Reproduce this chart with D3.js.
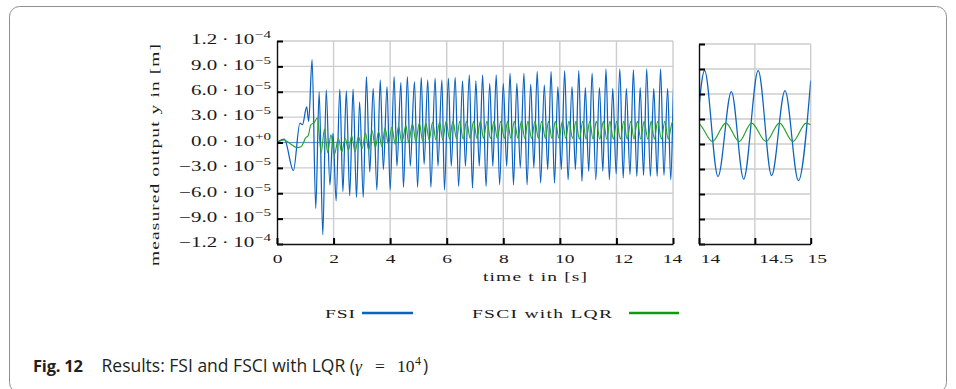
<!DOCTYPE html>
<html>
<head>
<meta charset="utf-8">
<script src="https://cdn.jsdelivr.net/npm/d3@7"></script>
<style>
  body { margin: 0; background: #fff; }
  svg text { font-family: "Liberation Serif", "DejaVu Serif", serif; fill: #1a1a1a; }
  svg text.caption { font-family: "Open Sans", "Noto Sans", sans-serif; fill: #231f20; }
</style>
</head>
<body>
<svg id="chart" width="956" height="389"></svg>
<script>
// values in units of 1e-5 m, time in s (turning points)
const fsiTime = [0.00, 0.26, 0.58, 0.81, 0.90, 1.05, 1.12, 1.24, 1.37, 1.49, 1.62, 1.74, 1.87, 1.98, 2.09, 2.22, 2.33, 2.45, 2.57, 2.69,
  2.81, 2.92, 3.05, 3.16, 3.28, 3.40, 3.53, 3.65, 3.76, 3.89, 4.00, 4.14, 4.24, 4.38, 4.47, 4.61, 4.71, 4.86, 4.97, 5.10,
  5.20, 5.33, 5.44, 5.59, 5.69, 5.83, 5.92, 6.06, 6.16, 6.30, 6.42, 6.56, 6.66, 6.80, 6.91, 7.03, 7.15, 7.27, 7.39, 7.52,
  7.63, 7.75, 7.87, 8.00, 8.12, 8.24, 8.36, 8.48, 8.60, 8.73, 8.84, 8.97, 9.08, 9.20, 9.32, 9.45, 9.57, 9.69, 9.81, 9.93,
  10.05, 10.17, 10.29, 10.43, 10.55, 10.67, 10.78, 10.90, 11.02, 11.14, 11.27, 11.40, 11.52, 11.63, 11.75, 11.87, 11.99, 12.12, 12.24, 12.35,
  12.48, 12.60, 12.72, 12.84, 12.96, 13.07, 13.20, 13.32, 13.44, 13.56, 13.68, 13.81, 13.92, 14.05, 14.17, 14.29, 14.40, 14.53, 14.65, 14.77,
  14.89, 15.00];
const fsiValue = [0.0, 0.4, -3.3, 2.3, 2.1, 4.2, 2.5, 9.8, -7.8, 6.0, -10.9, 6.2, -5.0, 1.1, -6.9, 6.3, -5.8, 6.1, -6.3, 6.3,
  -6.5, 4.8, -6.5, 7.8, -3.5, 6.4, -5.6, 7.4, -3.2, 6.6, -5.6, 7.8, -2.8, 7.1, -5.3, 7.8, -2.8, 7.2, -5.3, 7.7,
  -2.6, 7.4, -5.3, 7.6, -2.8, 7.4, -5.6, 7.6, -2.8, 7.7, -5.2, 7.3, -2.8, 8.0, -5.4, 7.3, -2.8, 8.0, -5.2, 7.0,
  -2.8, 8.0, -5.0, 7.0, -2.8, 8.2, -5.0, 7.0, -3.0, 8.2, -5.0, 6.9, -3.0, 8.4, -4.8, 6.8, -3.2, 8.4, -4.8, 6.6,
  -3.2, 8.5, -4.4, 6.6, -3.2, 8.5, -4.6, 6.5, -3.4, 8.2, -4.4, 6.5, -3.4, 8.7, -4.4, 6.4, -3.7, 8.7, -4.2, 6.4,
  -3.8, 8.6, -4.0, 6.5, -3.9, 8.7, -4.0, 6.4, -4.0, 8.7, -3.9, 6.4, -4.4, 8.8, -3.9, 6.3, -4.2, 8.8, -3.8, 6.4,
  -4.4, 7.6];

const fsciTime = [0.00, 0.25, 0.45, 0.70, 0.85, 0.95, 1.00, 1.10, 1.20, 1.30, 1.43, 1.56, 1.68, 1.79, 1.91, 2.03, 2.17, 2.29, 2.41, 2.53,
  2.64, 2.76, 2.88, 3.01, 3.13, 3.24, 3.36, 3.48, 3.59, 3.71, 3.82, 3.94, 4.06, 4.18, 4.30, 4.41, 4.56, 4.65, 4.79, 4.91,
  5.03, 5.15, 5.26, 5.38, 5.50, 5.62, 5.75, 5.86, 5.98, 6.10, 6.22, 6.35, 6.46, 6.58, 6.70, 6.83, 6.95, 7.07, 7.19, 7.30,
  7.42, 7.55, 7.67, 7.79, 7.91, 8.04, 8.15, 8.27, 8.39, 8.52, 8.64, 8.76, 8.87, 9.00, 9.12, 9.24, 9.36, 9.49, 9.60, 9.72,
  9.84, 9.97, 10.09, 10.21, 10.32, 10.45, 10.57, 10.69, 10.81, 10.93, 11.06, 11.17, 11.29, 11.41, 11.54, 11.66, 11.77, 11.89, 12.01, 12.14,
  12.26, 12.38, 12.51, 12.62, 12.74, 12.86, 12.98, 13.11, 13.23, 13.34, 13.46, 13.59, 13.71, 13.83, 13.99, 14.12, 14.24, 14.36, 14.47, 14.60,
  14.72, 14.84, 14.96, 15.00];
const fsciValue = [0.0, 0.3, -0.1, -0.6, -0.5, 0.1, 0.5, 0.8, 2.1, 2.3, 2.9, -1.2, 1.6, -1.2, 0.9, -1.4, 0.5, -1.1, 0.5, -0.9,
  0.8, -1.1, 0.7, -0.7, 1.1, -0.9, 1.4, -0.6, 1.3, -0.5, 1.7, -0.2, 1.8, -0.2, 1.9, 0.0, 2.0, 0.0, 2.2, 0.1,
  2.3, 0.2, 2.3, 0.3, 2.4, 0.3, 2.4, 0.3, 2.5, 0.4, 2.5, 0.4, 2.5, 0.4, 2.5, 0.5, 2.5, 0.5, 2.5, 0.5,
  2.5, 0.5, 2.5, 0.5, 2.5, 0.5, 2.5, 0.5, 2.5, 0.5, 2.5, 0.5, 2.5, 0.5, 2.5, 0.5, 2.5, 0.5, 2.5, 0.5,
  2.5, 0.5, 2.5, 0.5, 2.5, 0.5, 2.5, 0.4, 2.5, 0.4, 2.5, 0.4, 2.5, 0.4, 2.5, 0.4, 2.5, 0.4, 2.5, 0.4,
  2.5, 0.4, 2.5, 0.4, 2.5, 0.4, 2.5, 0.4, 2.5, 0.4, 2.5, 0.4, 2.5, 0.4, 2.5, 0.3, 2.5, 0.3, 2.5, 0.3,
  2.5, 0.3, 2.5, 2.3];

const xTicksMain = [0, 2, 4, 6, 8, 10, 12, 14];
const xTicksZoom = [14, 14.5, 15];
const xLabelsZoom = ["14", "14.5", "15"];
const yTicks = [-12, -9, -6, -3, 0, 3, 6, 9, 12];
const yMant = ["\u22121.2", "\u22129.0", "\u22126.0", "\u22123.0", "0.0", "3.0", "6.0", "9.0", "1.2"];
const yExp = ["\u22124", "\u22125", "\u22125", "\u22125", "+0", "\u22125", "\u22125", "\u22125", "\u22124"];
const seriesNames = ["FSI", "FSCI with LQR"];
const seriesColors = ["#0b62c0", "#0e9a12"];

const svg = d3.select('#chart');
const stretch = 1.5;   // text in the figure is wide along its reading direction

svg.append('rect')
  .attr('x', 9.5).attr('y', 6.5).attr('width', 937).attr('height', 386).attr('rx', 10)
  .attr('fill', 'none').attr('stroke', '#8f8f8f').attr('stroke-width', 1);

const xMain = d3.scaleLinear().domain([0, 14]).range([277, 673]);
const yMain = d3.scaleLinear().domain([-12, 12]).range([244, 41]);
const xZoom = d3.scaleLinear().domain([14, 15]).range([699, 810.7]);
const yZoom = d3.scaleLinear().domain([-12, 12]).range([244, 44]);

const fsi = fsiTime.map((t, i) => ({ t: t, v: fsiValue[i] }));
const fsci = fsciTime.map((t, i) => ({ t: t, v: fsciValue[i] }));

function drawPanel(x, y, xTicks, clipId, zeroLine) {
  const g = svg.append('g');
  const [xa, xb] = x.range();
  const [ya, yb] = y.range();

  g.append('g').selectAll('line')
    .data(yTicks.filter(d => d > -12))
    .join('line')
    .attr('x1', xa).attr('x2', xb)
    .attr('y1', d => y(d)).attr('y2', d => y(d))
    .attr('stroke', '#cdcdcd').attr('stroke-width', 1.4);

  g.append('g').selectAll('line')
    .data(xTicks.slice(1))
    .join('line')
    .attr('x1', d => x(d)).attr('x2', d => x(d))
    .attr('y1', yb).attr('y2', ya)
    .attr('stroke', '#cdcdcd').attr('stroke-width', 1.4);

  if (zeroLine) {
    g.append('line')
      .attr('x1', xa).attr('x2', xb).attr('y1', y(0)).attr('y2', y(0))
      .attr('stroke', '#4f87c6').attr('stroke-width', 0.8);
  }

  svg.append('clipPath').attr('id', clipId)
    .append('rect').attr('x', xa).attr('y', 0).attr('width', xb - xa).attr('height', 389);

  const line = d3.line()
    .x(d => x(d.t))
    .y(d => y(d.v))
    .curve(d3.curveMonotoneX);

  g.append('path').datum(fsi)
    .attr('clip-path', `url(#${clipId})`)
    .attr('d', line)
    .attr('fill', 'none').attr('stroke', seriesColors[0]).attr('stroke-width', 1.25);

  g.append('path').datum(fsci)
    .attr('clip-path', `url(#${clipId})`)
    .attr('d', line)
    .attr('fill', 'none').attr('stroke', '#26a32a').attr('stroke-width', 1.15);

  const yAxis = g.append('g')
    .attr('transform', `translate(${xa},0)`)
    .call(d3.axisLeft(y).tickValues(yTicks).tickSize(-6).tickSizeOuter(0).tickPadding(6).tickFormat(''));
  const xAxis = g.append('g')
    .attr('transform', `translate(0,${ya})`)
    .call(d3.axisBottom(x).tickValues(xTicks).tickSize(-6).tickSizeOuter(0).tickPadding(10));

  [yAxis, xAxis].forEach(ax => {
    ax.select('.domain').attr('stroke', '#111').attr('stroke-width', 1.4);
    ax.selectAll('.tick line').attr('stroke', '#000').attr('stroke-width', 2);
  });
  xAxis.selectAll('.tick text')
    .attr('font-size', 13)
    .attr('fill', '#1a1a1a')
    .attr('transform', `scale(${stretch},1)`);
  return { yAxis, xAxis };
}

const mainAx = drawPanel(xMain, yMain, xTicksMain, 'clip-main', true);
const zoomAx = drawPanel(xZoom, yZoom, xTicksZoom, 'clip-zoom', false);

// y tick labels of the main panel: mantissa · 10^exp
mainAx.yAxis.selectAll('.tick text').remove();
mainAx.yAxis.selectAll('.tick').each(function (d, i) {
  const t = d3.select(this).append('text')
    .attr('x', -6 / stretch)
    .attr('dy', '0.2em')
    .attr('text-anchor', 'end')
    .attr('font-size', 14)
    .attr('transform', `scale(${stretch},1)`);
  t.append('tspan').text(yMant[i]);
  t.append('tspan').attr('dx', 3).text('\u00b7');
  t.append('tspan').attr('dx', 3).text('10');
  t.append('tspan').attr('font-size', 10).attr('dy', -6).attr('dx', 0.5).text(yExp[i]);
});

// tick labels that sit a little off their ticks in the original
const mainShift = [0, 0, 0, 0, 0, 4.5, 6.5, -1];
mainAx.xAxis.selectAll('.tick text').attr('dx', (d, i) => mainShift[i] / stretch);
const zoomShift = [11, 21, 6];
zoomAx.xAxis.selectAll('.tick text')
  .text((d, i) => xLabelsZoom[i])
  .attr('dx', (d, i) => zoomShift[i] / stretch);

// axis titles
svg.append('text')
  .attr('transform', `translate(535,281) scale(${stretch},1)`)
  .attr('text-anchor', 'middle').attr('font-size', 13)
  .attr('textLength', 104 / stretch).attr('lengthAdjust', 'spacing')
  .text('time t in [s]');

svg.append('text')
  .attr('transform', `translate(158.5,155) rotate(-90) scale(${stretch},1)`)
  .attr('text-anchor', 'middle').attr('font-size', 13)
  .attr('textLength', 222 / stretch).attr('lengthAdjust', 'spacing')
  .text('measured output y in [m]');

// legend
const legendText = [{ x: 325, w: 30 }, { x: 472, w: 140 }];
const legendLine = [[362, 413], [629, 679]];
seriesNames.forEach((name, i) => {
  svg.append('text')
    .attr('transform', `translate(${legendText[i].x},318) scale(${stretch},1)`)
    .attr('font-size', 13)
    .attr('textLength', legendText[i].w / stretch).attr('lengthAdjust', 'spacing')
    .text(name);
  svg.append('line')
    .attr('x1', legendLine[i][0]).attr('x2', legendLine[i][1])
    .attr('y1', 313).attr('y2', 313)
    .attr('stroke', seriesColors[i]).attr('stroke-width', 2.7);
});

// caption
const capY = 372;
svg.append('text').attr('class', 'caption')
  .attr('x', 33).attr('y', capY).attr('font-size', 16.5).attr('font-weight', 'bold')
  .attr('textLength', 50).attr('lengthAdjust', 'spacing')
  .text('Fig. 12');
svg.append('text').attr('class', 'caption')
  .attr('x', 101.5).attr('y', capY).attr('font-size', 17.5)
  .text('Results: FSI and FSCI with LQR (');
const math = svg.append('text').attr('y', capY).attr('font-size', 17.5).attr('fill', '#231f20');
math.append('tspan').attr('x', 355).attr('font-style', 'italic').text('\u03b3');
math.append('tspan').attr('x', 375).text('=');
math.append('tspan').attr('x', 397).text('10');
math.append('tspan').attr('x', 415).attr('dy', -7).attr('font-size', 12).text('4');
svg.append('text').attr('class', 'caption')
  .attr('x', 423).attr('y', capY).attr('font-size', 17.5).text(')');
</script>
</body>
</html>
